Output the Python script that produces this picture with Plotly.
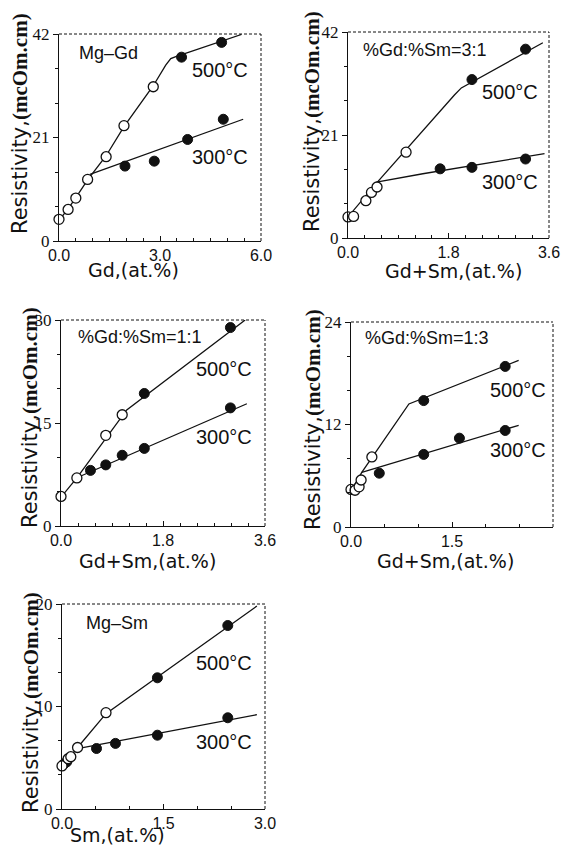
import plotly.graph_objects as go

# ---------------- data ----------------
# Panel 1: Mg-Gd
gd_open_x = [0.0, 0.27, 0.5, 0.85, 1.4, 1.93, 2.8]
gd_open_y = [4.4, 6.4, 8.7, 12.5, 17.1, 23.4, 31.3]
gd_500_x = [3.64, 4.83]
gd_500_y = [37.3, 40.3]
gd_300_x = [1.96, 2.83, 3.82, 4.88]
gd_300_y = [15.2, 16.2, 20.6, 24.7]
gd_fit500_x = [0.0, 0.27, 0.5, 0.85, 1.4, 1.93, 2.8, 3.17, 3.32, 3.47, 5.42]
gd_fit500_y = [4.2, 6.5, 8.8, 12.4, 17.3, 23.2, 31.5, 35.7, 37.0, 37.4, 41.9]
gd_fit300_x = [0.92, 5.47]
gd_fit300_y = [13.5, 24.7]

# Panel 2: %Gd:%Sm = 3:1
a_open_x = [0.0, 0.1, 0.32, 0.42, 0.52, 1.04]
a_open_y = [4.3, 4.4, 7.6, 9.3, 10.4, 17.5]
a_500_x = [2.22, 3.18]
a_500_y = [32.3, 38.5]
a_300_x = [1.65, 2.22, 3.18]
a_300_y = [14.1, 14.4, 16.1]
a_fit500_x = [0.0, 0.51, 1.91, 2.03, 3.49]
a_fit500_y = [4.3, 11.2, 29.2, 30.6, 39.8]
a_fit300_x = [0.51, 1.34, 3.52]
a_fit300_y = [11.4, 13.1, 17.2]

# Panel 3: %Gd:%Sm = 1:1
b_open_x = [0.0, 0.28, 0.79, 1.08]
b_open_y = [4.3, 7.0, 13.2, 16.2]
b_500_x = [1.47, 2.99]
b_500_y = [19.3, 28.9]
b_300_x = [0.52, 0.79, 1.08, 1.47, 2.99]
b_300_y = [8.1, 8.9, 10.3, 11.3, 17.2]
b_fit500_x = [0.0, 0.28, 1.16, 3.25]
b_fit500_y = [4.2, 7.0, 16.9, 30.0]
b_fit300_x = [0.3, 3.28]
b_fit300_y = [7.1, 17.8]

# Panel 4: %Gd:%Sm = 1:3
c_open_x = [0.0, 0.06, 0.12, 0.15, 0.31]
c_open_y = [4.4, 4.3, 4.7, 5.5, 8.2]
c_500_x = [1.08, 2.29]
c_500_y = [14.8, 18.8]
c_300_x = [0.42, 1.08, 1.61, 2.29]
c_300_y = [6.3, 8.5, 10.4, 11.3]
c_fit500_x = [0.0, 0.16, 0.86, 2.49]
c_fit500_y = [4.2, 6.4, 14.4, 19.5]
c_fit300_x = [0.16, 2.49]
c_fit300_y = [6.4, 11.9]

# Panel 5: Mg-Sm
sm_open_x = [0.0, 0.09, 0.13, 0.23, 0.65]
sm_open_y = [4.2, 4.9, 5.1, 6.0, 9.4]
sm_500_x = [1.41, 2.45]
sm_500_y = [12.8, 17.9]
sm_300_x = [0.03, 0.07, 0.51, 0.79, 1.41, 2.45]
sm_300_y = [4.4, 4.6, 5.9, 6.4, 7.2, 8.9]
sm_fit500_x = [0.0, 0.23, 0.65, 2.88]
sm_fit500_y = [4.1, 6.0, 9.3, 19.8]
sm_fit300_x = [0.23, 2.88]
sm_fit300_y = [5.9, 9.2]

panel_labels = ["Mg\u2013Gd", "%Gd:%Sm=3:1", "%Gd:%Sm=1:1", "%Gd:%Sm=1:3", "Mg\u2013Sm"]
x_titles = ["Gd,(at.%)", "Gd+Sm,(at.%)", "Gd+Sm,(at.%)", "Gd+Sm,(at.%)", "Sm,(at.%)"]
y_title = "Resistivity,<span style='font-family:Liberation Serif;font-weight:bold'>(mcOm.cm)</span>"
x_ranges = [[0, 6], [0, 3.6], [0, 3.6], [0, 3.0], [0, 3.0]]
y_ranges = [[0, 42], [0, 42], [0, 30], [0, 24], [0, 20]]
x_ticktext = [["0.0", "3.0", "6.0"], ["0.0", "1.8", "3.6"], ["0.0", "1.8", "3.6"],
              ["0.0", "1.5", "3.0"], ["0.0", "1.5", "3.0"]]
y_ticktext = [["0", "21", "42"], ["0", "21", "42"], ["0", "15", "30"],
              ["0", "12", "24"], ["0", "10", "20"]]
x_minor_div = [12, 12, 12, 6, 6]
temp_labels = ["500\u00b0C", "300\u00b0C"]

series = [
    (gd_open_x, gd_open_y, gd_500_x, gd_500_y, gd_300_x, gd_300_y, gd_fit500_x, gd_fit500_y, gd_fit300_x, gd_fit300_y),
    (a_open_x, a_open_y, a_500_x, a_500_y, a_300_x, a_300_y, a_fit500_x, a_fit500_y, a_fit300_x, a_fit300_y),
    (b_open_x, b_open_y, b_500_x, b_500_y, b_300_x, b_300_y, b_fit500_x, b_fit500_y, b_fit300_x, b_fit300_y),
    (c_open_x, c_open_y, c_500_x, c_500_y, c_300_x, c_300_y, c_fit500_x, c_fit500_y, c_fit300_x, c_fit300_y),
    (sm_open_x, sm_open_y, sm_500_x, sm_500_y, sm_300_x, sm_300_y, sm_fit500_x, sm_fit500_y, sm_fit300_x, sm_fit300_y),
]

# ---------------- layout geometry (pixels) ----------------
W, H = 563, 847
boxes = [(59, 34, 261, 241), (348, 32, 549, 238), (61, 320, 265, 526),
         (351, 322, 553, 527), (62, 604, 265, 809)]
label_pos = [(0.243, 0.908), (0.383, 0.913), (0.387, 0.917), (0.376, 0.922), (0.271, 0.907)]
t500_pos = [(0.797, 0.826), (0.806, 0.709), (0.799, 0.762), (0.827, 0.668), (0.798, 0.712)]
t300_pos = [(0.797, 0.406), (0.806, 0.272), (0.799, 0.432), (0.827, 0.376), (0.798, 0.327)]
xtitle_px = [(133, 270), (453, 271), (147, 561), (445, 561), (117, 835)]
ytitle_px = [(20, 124), (312, 122), (30, 418), (313, 420), (31, 703)]

INK = "#111111"
fig = go.Figure()
layout = dict(width=W, height=H, margin=dict(l=0, r=0, t=0, b=0, autoexpand=False),
              paper_bgcolor="white", plot_bgcolor="white", showlegend=False)
annotations = []
shapes = []
C = dict(xanchor="center", yanchor="middle", showarrow=False)

for i in range(5):
    n = "" if i == 0 else str(i + 1)
    xa, ya = "x" + n, "y" + n
    (ox, oy, a5x, a5y, a3x, a3y, f5x, f5y, f3x, f3y) = series[i]
    for fx, fy in ((f5x, f5y), (f3x, f3y)):
        fig.add_trace(go.Scatter(x=fx, y=fy, mode="lines", xaxis=xa, yaxis=ya,
                                 line=dict(color=INK, width=1.3), hoverinfo="skip"))
    for px_, py_ in ((a5x, a5y), (a3x, a3y)):
        fig.add_trace(go.Scatter(x=px_, y=py_, mode="markers", xaxis=xa, yaxis=ya,
                                 cliponaxis=False,
                                 marker=dict(size=10, color=INK, line=dict(color=INK, width=1))))
    fig.add_trace(go.Scatter(x=ox, y=oy, mode="markers", xaxis=xa, yaxis=ya,
                             cliponaxis=False,
                             marker=dict(size=10, color="white", line=dict(color=INK, width=1.3))))

    x0, y0, x1, y1 = boxes[i]
    xr, yr = x_ranges[i], y_ranges[i]
    xt = [xr[0], (xr[0] + xr[1]) / 2, xr[1]]
    yt = [yr[0], (yr[0] + yr[1]) / 2, yr[1]]
    layout["xaxis" + n] = dict(
        domain=[x0 / W, x1 / W], range=xr, anchor=ya, automargin=False,
        showgrid=False, zeroline=False, showline=True, linecolor=INK, linewidth=1.3,
        tickmode="array", tickvals=xt, ticktext=x_ticktext[i],
        ticks="inside", ticklen=5, tickcolor=INK, tickwidth=1.2,
        minor=dict(dtick=(xr[1] - xr[0]) / x_minor_div[i], ticks="inside", ticklen=3,
                   tickcolor=INK, tickwidth=1),
        tickfont=dict(family="Liberation Sans", size=16, color=INK))
    layout["yaxis" + n] = dict(
        domain=[1 - y1 / H, 1 - y0 / H], range=yr, anchor=xa, automargin=False,
        showgrid=False, zeroline=False, showline=True, linecolor=INK, linewidth=1.3,
        tickmode="array", tickvals=yt, ticktext=y_ticktext[i],
        ticks="outside", ticklen=5, tickcolor=INK, tickwidth=1.2,
        minor=dict(dtick=(yr[1] - yr[0]) / 6, ticks="outside", ticklen=3,
                   tickcolor=INK, tickwidth=1),
        tickfont=dict(family="Liberation Serif", size=17, color=INK))
    dom = dict(xref=xa + " domain", yref=ya + " domain", type="line",
               line=dict(color=INK, width=1, dash="3px,2px"))
    shapes.append(dict(dom, x0=0, x1=1, y0=1, y1=1))
    shapes.append(dict(dom, x0=1, x1=1, y0=0, y1=1))
    lx, ly = label_pos[i]
    annotations.append(dict(C, xref=xa + " domain", yref=ya + " domain", x=lx, y=ly,
                            text=panel_labels[i],
                            font=dict(family="Liberation Sans", size=18, color=INK)))
    for (tx, ty), txt in ((t500_pos[i], temp_labels[0]), (t300_pos[i], temp_labels[1])):
        annotations.append(dict(C, xref=xa + " domain", yref=ya + " domain", x=tx, y=ty,
                                text=txt,
                                font=dict(family="Liberation Sans", size=20, color=INK)))
    tx, ty = xtitle_px[i]
    annotations.append(dict(C, xref="paper", yref="paper", x=tx / W, y=1 - ty / H,
                            text=x_titles[i],
                            font=dict(family="DejaVu Sans", size=19, color=INK)))
    tx, ty = ytitle_px[i]
    annotations.append(dict(C, xref="paper", yref="paper", x=tx / W, y=1 - ty / H,
                            text=y_title, textangle=-90,
                            font=dict(family="DejaVu Sans", size=21, color=INK)))

layout["annotations"] = annotations
layout["shapes"] = shapes
fig.update_layout(**layout)
fig.write_html("out.html", config={"displayModeBar": False},
               post_script="document.body.style.margin='0';document.body.style.overflow='hidden';")
